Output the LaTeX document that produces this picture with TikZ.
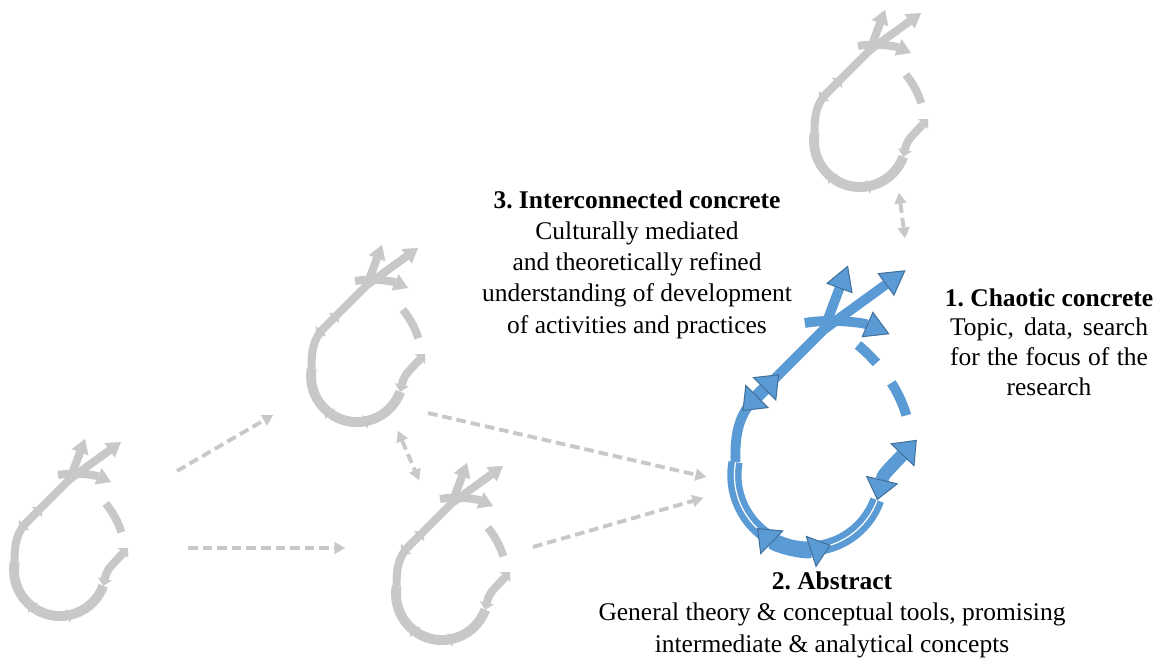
\documentclass[tikz,border=0pt]{standalone}
\usepackage{fontspec}
\setmainfont{Liberation Serif}
\usetikzlibrary{arrows.meta}

\definecolor{loopgrey}{RGB}{200,200,200}
\definecolor{loopblue}{RGB}{91,155,213}
\definecolor{edgeblue}{RGB}{65,113,156}

\tikzset{
  loopline/.style={line width=4.6pt,color=loopgrey},
  ringline/.style={loopline,line width=5.6pt},
  markline/.style={loopline,{Triangle[length=4pt,width=8pt,line width=0.1pt]}-{Triangle[length=4pt,width=8pt,line width=0.1pt]}},
  gapline/.style={loopline,dash pattern=on 0pt off 4.5pt on 18.7pt off 30pt},
  link/.style={line width=2.2pt,color=loopgrey,dash pattern=on 5.5pt off 2.8pt,-{Triangle[length=6pt,width=7pt,line width=0.1pt]}},
  twolink/.style={link,{Triangle[length=6pt,width=7pt,line width=0.1pt]}-{Triangle[length=6pt,width=7pt,line width=0.1pt]}},
  caption/.style={align=center,anchor=base,inner sep=0pt,font=\fontsize{14.5pt}{17.7pt}\selectfont\frenchspacing},
  >={Triangle[length=8pt,width=10pt,line width=0.1pt]},
  spiral/.pic={
    % ring
    \draw[ringline] (190:46) arc[start angle=190,end angle=20,radius=46];
    % stem up to the fork
    \draw[loopline] (190:46) .. controls (-46,-28) and (-42,-39) .. (-33,-48) -- (10,-91);
    % the three prongs
    \draw[loopline,->] (10,-91) -- (25,-131);
    \draw[loopline,->] (10,-91) -- (61,-128);
    \draw[loopline,->] (-2,-95) .. controls (15,-98) and (35,-95) .. (51,-88);
    % broken part back to the fork
    \draw[gapline] (63,-30) .. controls (60,-50) and (45,-72) .. (25,-86);
    % double heads on the way round
    \draw[markline] (-41,-40) -- (-18,-63);
    \draw[markline] (134:46) arc[start angle=134,end angle=72,radius=46];
    \draw[markline] (20:46) .. controls (47,0) .. (68,-22);
  }
}

\begin{document}
\begin{tikzpicture}[x=0.02cm,y=-0.02cm]
  \useasboundingbox (0,0) rectangle (1162,659);

  \pic (la) at (60,570) {spiral};
  \pic (lb) at (357,376) {spiral};
  \pic (lc) at (442,594) {spiral};
  \pic (ld) at (860,141) {spiral};
  \pic[scale=1.6,
    loopline/.style={line width=5.6pt,color=loopblue},
    ringline/.style={line width=3.7pt,color=loopblue,double=white,double distance=0.7pt},
    markline/.style={line width=7.5pt,color=loopblue,{Triangle[length=12pt,width=19pt,line width=0.6pt,color=edgeblue,fill=loopblue]}-{Triangle[length=12pt,width=19pt,line width=0.6pt,color=edgeblue,fill=loopblue]}},
    gapline/.style={loopline,dash pattern=on 0pt off 6.8pt on 20.4pt off 14.2pt on 14.7pt off 40pt},
    >={Triangle[length=14pt,width=16pt,line width=0.6pt,color=edgeblue,fill=loopblue]}]
    (le) at (808,475) {spiral};

  \node[caption] (ni) at (637,333) {\textbf{3. Interconnected concrete}\\Culturally mediated\\and theoretically refined\\understanding of development\\of activities and practices};
  \node[caption,font=\fontsize{14.5pt}{16.8pt}\selectfont\frenchspacing] (nc) at (1049,395) {\textbf{1. Chaotic concrete}\\\makebox[3.96cm][s]{Topic, data, search}\\\makebox[3.96cm][s]{for the focus of the}\\research};
  \node[caption] (na) at (832,652) {\textbf{2. Abstract}\\General theory \& conceptual tools, promising\\intermediate \& analytical concepts};

  \coordinate (pab1) at (177,471);
  \coordinate (pab2) at (273,415);
  \coordinate (pac1) at (188,548);
  \coordinate (pac2) at (345,548);
  \coordinate (pbc1) at (398,431);
  \coordinate (pbc2) at (419,480);
  \coordinate (pbe1) at (428,413);
  \coordinate (pbe2) at (706,477);
  \coordinate (pce1) at (533,547);
  \coordinate (pce2) at (703,498);
  \coordinate (pde1) at (899,193);
  \coordinate (pde2) at (905,238);

  \draw[link] (pab1) -- (pab2);
  \draw[link] (pac1) -- (pac2);
  \draw[twolink] (pbc1) -- (pbc2);
  \draw[link] (pbe1) -- (pbe2);
  \draw[link] (pce1) -- (pce2);
  \draw[twolink] (pde1) -- (pde2);

\end{tikzpicture}
\end{document}
